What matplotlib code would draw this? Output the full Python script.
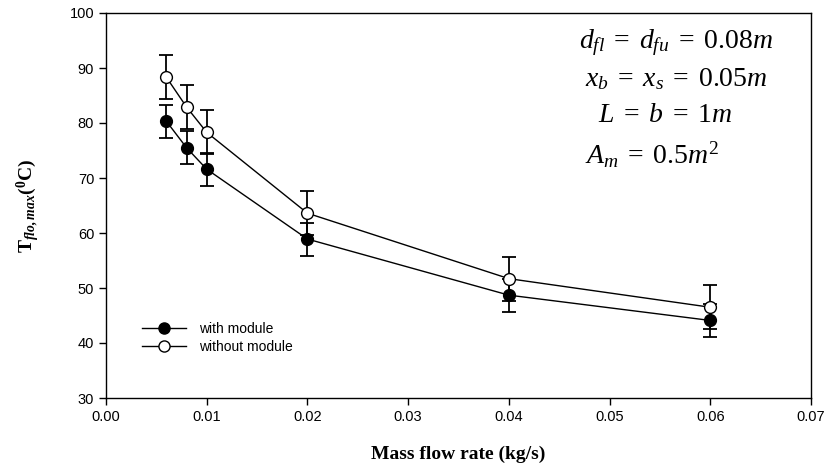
import matplotlib
matplotlib.use("Agg")
import matplotlib.pyplot as plt
from matplotlib.lines import Line2D

plt.rcParams["font.family"] = ["Liberation Sans", "DejaVu Sans"]
plt.rcParams["mathtext.fontset"] = "custom"
plt.rcParams["mathtext.rm"] = "Liberation Serif"
plt.rcParams["mathtext.it"] = "Liberation Serif:italic"
plt.rcParams["mathtext.bf"] = "Liberation Serif:bold"
plt.rcParams["mathtext.bfit"] = "Liberation Serif:bold:italic"

flow = [0.006, 0.008, 0.01, 0.02, 0.04, 0.06]
with_module = [80.3, 75.5, 71.6, 58.9, 48.7, 44.1]
with_err = [3, 3, 3, 3, 3, 3]
without_module = [88.3, 82.9, 78.3, 63.6, 51.7, 46.5]
without_err = [4, 4, 4, 4, 4, 4]

xticks = [0.00, 0.01, 0.02, 0.03, 0.04, 0.05, 0.06, 0.07]
yticks = [30, 40, 50, 60, 70, 80, 90, 100]

fig = plt.figure(figsize=(8.34, 4.66), dpi=100)
ax = fig.add_axes([106 / 834, 1 - 398 / 466, 705 / 834, 385 / 466])

ax.errorbar(flow, with_module, yerr=with_err, fmt="o-", color="black",
            mfc="black", mec="black", ms=8.5, lw=1, elinewidth=1.3,
            capsize=5, capthick=1.3, zorder=3)
ax.errorbar(flow, without_module, yerr=without_err, fmt="o-", color="black",
            mfc="white", mec="black", ms=8.5, lw=1, elinewidth=1.3,
            capsize=5, capthick=1.3, zorder=3)

ax.set_xlim(0, 0.07)
ax.set_ylim(30, 100)
ax.set_xticks(xticks)
ax.set_xticklabels([f"{t:.2f}" for t in xticks])
ax.set_yticks(yticks)
ax.tick_params(direction="out", length=5, width=1, labelsize=10.5,
               top=False, right=False)
for s in ax.spines.values():
    s.set_linewidth(1)

ax.set_xlabel("Mass flow rate (kg/s)", family="Liberation Serif",
              fontweight="bold", fontsize=14, labelpad=16)
ax.set_ylabel(r"$\mathbf{T}_{\mathbfit{flo,max}}\mathbf{(^{0}C)}$",
              fontsize=14, labelpad=20)

ann = dict(transform=ax.transAxes, ha="center", va="center", fontsize=20)
ax.text(0.809, 0.922, r"$d_{fl}\;=\;d_{fu}\;=\;0.08m$", **ann)
ax.text(0.809, 0.829, r"$x_{b}\;=\;x_{s}\;=\;0.05m$", **ann)
ax.text(0.793, 0.735, r"$L\;=\;b\;=\;1m$", **ann)
ax.text(0.775, 0.631, r"$A_{m}\;=\;0.5m^{2}$", **ann)

handles = [
    Line2D([], [], color="black", lw=1, marker="o", ms=8, mfc="black", mec="black"),
    Line2D([], [], color="black", lw=1, marker="o", ms=8, mfc="white", mec="black"),
]
ax.legend(handles, ["with module", "without module"], loc="lower left",
          bbox_to_anchor=(0.043, 0.1), frameon=False, fontsize=10,
          handlelength=3.2, handletextpad=0.9, labelspacing=0.3,
          borderaxespad=0)

fig.savefig("out.png", dpi=100)
